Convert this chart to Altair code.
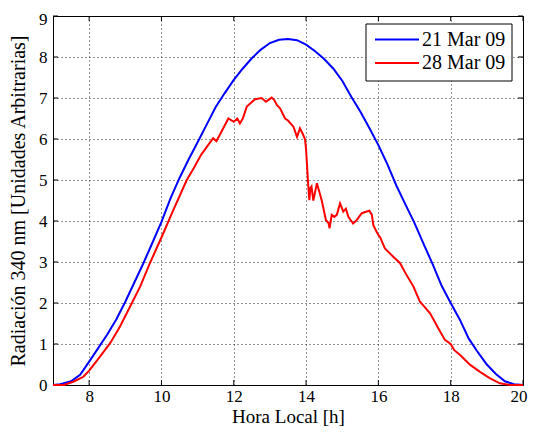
import altair as alt
import pandas as pd

# ---- data ----
series_names = ["21 Mar 09", "28 Mar 09"]
series_colors = ["#0000ff", "#ff0000"]

hours_21 = [7.0, 7.2, 7.5, 7.75, 8.0, 8.25, 8.5, 8.75, 9.0, 9.25, 9.5, 9.75, 10.0,
            10.25, 10.5, 10.75, 11.0, 11.25, 11.5, 11.75, 12.0, 12.25, 12.5, 12.75,
            13.0, 13.25, 13.5, 13.75, 14.0, 14.25, 14.5, 14.75, 15.0, 15.25, 15.5,
            15.75, 16.0, 16.25, 16.5, 16.75, 17.0, 17.25, 17.5, 17.75, 18.0, 18.25,
            18.5, 18.75, 19.0, 19.25, 19.5, 19.75, 20.0]
rad_21 = [0.0, 0.02, 0.09, 0.25, 0.57, 0.9, 1.23, 1.6, 2.03, 2.5, 2.97, 3.47, 3.98,
          4.55, 5.05, 5.5, 5.92, 6.35, 6.78, 7.12, 7.44, 7.72, 7.97, 8.18,
          8.34, 8.42, 8.44, 8.41, 8.3, 8.14, 7.95, 7.72, 7.42, 7.03, 6.67,
          6.27, 5.85, 5.38, 4.86, 4.4, 3.95, 3.44, 2.95, 2.42, 2.0, 1.6,
          1.13, 0.8, 0.5, 0.27, 0.09, 0.02, 0.0]

hours_28 = [7.0, 7.3, 7.56, 7.84, 8.0, 8.3, 8.58, 8.85, 9.13, 9.41, 9.68, 9.99,
            10.33, 10.7, 10.9, 11.1, 11.25, 11.43, 11.52, 11.6, 11.85, 12.0, 12.1,
            12.17, 12.25, 12.36, 12.5, 12.59, 12.77, 12.89, 13.05, 13.12, 13.19,
            13.28, 13.42, 13.5, 13.65, 13.75, 13.83, 13.9, 13.97, 14.0, 14.05,
            14.09, 14.12, 14.15, 14.2, 14.3, 14.43, 14.55, 14.62, 14.65, 14.71,
            14.78, 14.85, 14.94, 15.03, 15.1, 15.17, 15.3, 15.4, 15.54, 15.68,
            15.75, 15.82, 15.86, 15.97, 16.05, 16.18, 16.41, 16.6, 16.78, 16.97,
            17.15, 17.3, 17.43, 17.66, 17.84, 18.0, 18.1, 18.26, 18.54, 18.81,
            19.09, 19.36, 19.64, 20.0]
rad_28 = [0.0, 0.0, 0.08, 0.2, 0.35, 0.69, 1.02, 1.42, 1.91, 2.4, 2.97, 3.58,
          4.27, 5.0, 5.3, 5.62, 5.8, 6.02, 5.95, 6.08, 6.5, 6.42, 6.5,
          6.38, 6.5, 6.79, 6.9, 6.97, 7.0, 6.91, 7.01, 6.95, 6.83,
          6.75, 6.5, 6.45, 6.3, 6.05, 6.26, 6.14, 6.0, 5.75, 5.0,
          4.51, 4.8, 4.84, 4.5, 4.92, 4.51, 4.02, 3.95, 3.82, 4.15,
          4.1, 4.15, 4.43, 4.23, 4.3, 4.1, 3.94, 4.02, 4.19, 4.23,
          4.25, 4.15, 3.9, 3.7, 3.6, 3.33, 3.13, 2.97, 2.68, 2.4,
          2.03, 1.88, 1.75, 1.38, 1.1, 1.0, 0.85, 0.73, 0.49, 0.32,
          0.16, 0.04, 0.0, 0.0]

x_ticks = [8, 10, 12, 14, 16, 18, 20]
y_ticks = [0, 1, 2, 3, 4, 5, 6, 7, 8, 9]
x_domain = [7, 20]
y_domain = [0, 9]

x_title = "Hora Local [h]"
y_title = "Radiación 340 nm [Unidades Arbitrarias]"

FONT = "Liberation Serif"
W, H = 470, 369

df = pd.concat([
    pd.DataFrame({"hora": hours_21, "rad": rad_21, "serie": series_names[0]}),
    pd.DataFrame({"hora": hours_28, "rad": rad_28, "serie": series_names[1]}),
])
xt = pd.DataFrame({"t": x_ticks})
yt = pd.DataFrame({"t": y_ticks})
leg = pd.DataFrame({"serie": series_names, "color": series_colors})

xscale = alt.Scale(domain=x_domain, nice=False, zero=False)
yscale = alt.Scale(domain=y_domain, nice=False, zero=False)

xaxis = alt.Axis(values=x_ticks, title=x_title, grid=True, ticks=False, domain=False,
                 labelPadding=3.5, format="d", labelFont=FONT, labelFontSize=17,
                 labelFlush=True, labelFlushOffset=4,
                 titleY=37.5, titleBaseline="alphabetic", titleFontSize=19)
yaxis = alt.Axis(values=y_ticks, title=y_title, grid=True, ticks=False, domain=False,
                 labelPadding=6, titlePadding=10, format="d", labelFont=FONT,
                 labelFontSize=17, titleFontSize=20,
                 labelOffset={"condition": {"test": "datum.value == 9", "value": 3},
                              "value": 0})

lines = alt.Chart(df).mark_line(strokeWidth=2, interpolate="linear").encode(
    x=alt.X("hora:Q", scale=xscale, axis=xaxis),
    y=alt.Y("rad:Q", scale=yscale, axis=yaxis),
    color=alt.Color("serie:N", scale=alt.Scale(domain=series_names, range=series_colors),
                    legend=None),
    order=alt.Order("hora:Q"),
)

tick_style = dict(color="black", strokeWidth=1)
xt_bot = alt.Chart(xt).mark_rule(**tick_style).encode(
    x=alt.X("t:Q", scale=xscale), y=alt.value(H), y2=alt.value(H - 5))
xt_top = alt.Chart(xt).mark_rule(**tick_style).encode(
    x=alt.X("t:Q", scale=xscale), y=alt.value(0), y2=alt.value(5))
yt_left = alt.Chart(yt).mark_rule(**tick_style).encode(
    y=alt.Y("t:Q", scale=yscale), x=alt.value(0), x2=alt.value(5))
yt_right = alt.Chart(yt).mark_rule(**tick_style).encode(
    y=alt.Y("t:Q", scale=yscale), x=alt.value(W), x2=alt.value(W - 5))

# legend box (manual, matching MATLAB style)
LX0, LX1, LY0, LY1 = 313, 459, 8, 65
box = alt.Chart(leg.head(1)).mark_rect(fill="white", stroke="black", strokeWidth=1).encode(
    x=alt.value(LX0), x2=alt.value(LX1), y=alt.value(LY0), y2=alt.value(LY1))
leg_layers = []
for i, (name, col) in enumerate(zip(series_names, series_colors)):
    row = leg[leg["serie"] == name]
    yy = 23.5 + i * 23.5
    leg_layers.append(alt.Chart(row).mark_rule(color=col, strokeWidth=2).encode(
        x=alt.value(322), x2=alt.value(366), y=alt.value(yy)))
    leg_layers.append(alt.Chart(row).mark_text(
        align="left", baseline="middle", font=FONT, fontSize=20, color="black").encode(
        x=alt.value(369), y=alt.value(yy), text="serie:N"))

chart = alt.layer(xt_bot, xt_top, yt_left, yt_right, lines, box, *leg_layers).properties(
    width=W, height=H,
    autosize=alt.AutoSizeParams(type="none"),
    padding={"left": 45, "top": 8, "right": 5, "bottom": 41},
    background="white",
).configure_view(
    stroke="black", strokeWidth=1
).configure_axis(
    labelFont=FONT, labelFontSize=17, labelColor="black",
    titleFont=FONT, titleFontSize=20, titleColor="black", titleFontWeight="normal",
    gridColor="black", gridDash=[1, 3], gridOpacity=0.85, gridWidth=1,
)

chart.save("out.html", embed_options={"renderer": "svg", "actions": False})
